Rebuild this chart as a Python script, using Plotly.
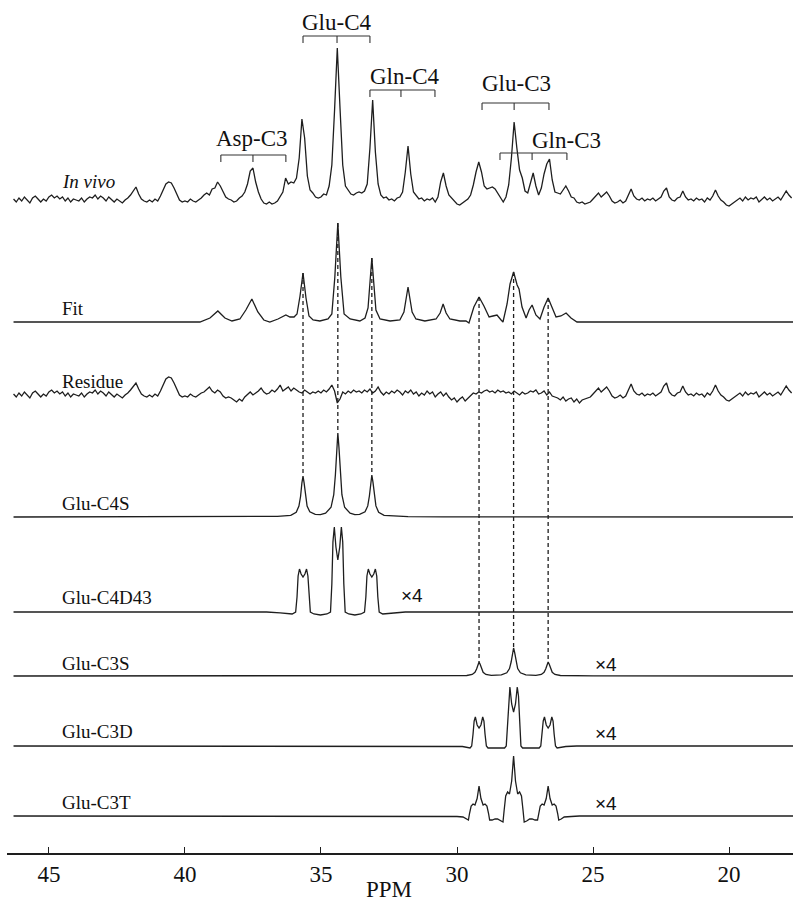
import numpy as np
import plotly.graph_objects as go

# ---------------- DATA (ppm, intensities) ----------------
# Sampled spectra on a 0.1 ppm grid starting at 46.3 ppm (descending)
grid_start, grid_step = 46.3, 0.1

invivo = [
    1, -2, 2, -1, 3, 0, -3, 2, 4, 1,            # 46.3 - 45.4
    -2, 1, -1, 3, 5, 2, 4, 1, 3, -1,            # 45.3 - 44.4
    2, -2, 1, 0, -1, 2, -2, 1, 3, 2,            # 44.3 - 43.4
    5, 1, 4, 2, -1, 3, 0, -2, 1, -1,            # 43.3 - 42.4
    -3, 0, 2, 5, 9, 13, 6, 1, -1, -2,           # 42.3 - 41.4
    0, -2, 1, -1, 4, 10, 16, 18, 17, 12,        # 41.3 - 40.4
    5, 0, -2, -1, -2, 1, -1, -2, 0, 2,          # 40.3 - 39.4
    5, 7, 5, 11, 12, 18, 14, 9, 3, 1,           # 39.3 - 38.4
    0, -2, -1, 2, 4, 8, 16, 29, 32, 18,         # 38.3 - 37.4
    8, 1, -3, -4, -2, -4, -3, -1, 3, 8,         # 37.3 - 36.4
    22, 16, 18, 17, 22, 42, 81, 62, 24, 10,     # 36.3 - 35.4
    7, 3, 2, 3, 6, 5, 14, 35, 90, 152,          # 35.3 - 34.4
    92, 35, 14, 10, 6, 5, 7, 8, 7, 9,           # 34.3 - 33.4
    16, 52, 100, 48, 16, 5, 2, 3, 0, 1,         # 33.3 - 32.4
    -1, 2, 3, 8, 28, 54, 26, 8, 4, 1,           # 32.3 - 31.4
    2, -1, 1, 0, 2, -2, 3, 18, 27, 14,          # 31.3 - 30.4
    5, 2, -2, -4, -5, -3, -1, 1, 5, 15,         # 30.3 - 29.4
    28, 38, 28, 14, 11, 12, 13, 11, 7, 3,       # 29.3 - 28.4
    -2, 3, 15, 42, 78, 52, 30, 22, 9, 7,        # 28.3 - 27.4
    18, 27, 14, 5, 12, 26, 36, 41, 20, 8,       # 27.3 - 26.4
    7, 6, 10, 14, 9, 3, 2, -2, -3, -2,          # 26.3 - 25.4
    -4, -3, -2, 1, 4, 7, 3, 6, 8, 4,            # 25.3 - 24.4
    -1, -3, -2, 0, -3, -1, 5, 11, 4, 1,         # 24.3 - 23.4
    0, 2, -1, 1, 0, 2, -1, 1, 3, 9,             # 23.3 - 22.4
    12, 3, 0, -1, 2, 3, 9, 3, 0, 1,             # 22.3 - 21.4
    -1, 2, 0, 1, -2, 2, 0, 4, 10, 4,            # 21.3 - 20.4
    0, -2, -5, -6, -4, -2, 0, 2, -1, 3,         # 20.3 - 19.4
    0, 2, 1, 3, -2, 1, 3, 0, 2, -1,             # 19.3 - 18.4
    1, 3, 0, 4, 9, 5, 2,                        # 18.3 - 17.7
]

residue = [
    1, -2, 2, -1, 3, 0, -3, 2, 4, 1,
    -2, 1, -1, 3, 5, 2, 4, 1, 3, -1,
    2, -2, 1, 0, -1, 2, -2, 1, 3, 2,
    5, 1, 4, 2, -1, 3, 0, -2, 1, -1,
    -3, 0, 2, 5, 9, 12, 6, 1, -1, -2,
    0, -2, 1, -1, 4, 10, 16, 18, 17, 12,
    5, 0, -2, -1, -2, 1, -1, -2, 0, 2,
    3, 6, 8, 4, 2, 5, 3, -1, -3, -2,            # 39.3 - 38.4
    -3, -5, -7, -4, -6, -2, 1, 3, 0, 2,         # 38.3 - 37.4
    4, 7, 3, 1, 2, 5, 3, 6, 10, 4,              # 37.3 - 36.4
    6, 8, 4, 7, 5, 3, 2, 5, 3, 1,               # 36.3 - 35.4
    3, 2, 4, 2, 5, 3, 6, 10, 4, -8,             # 35.3 - 34.4
    -4, 3, 1, 4, 2, 5, 3, 4, 2, 5,              # 34.3 - 33.4
    3, 6, 2, 4, 8, 3, 0, 3, 1, 4,               # 33.3 - 32.4
    2, 5, 3, 0, 4, 2, 5, 1, 3, -1,              # 32.3 - 31.4
    2, 0, 4, 1, 3, -2, 1, 3, -1, 2,             # 31.3 - 30.4
    -2, -5, -3, -7, -4, -2, -6, -3, 0, 2,       # 30.3 - 29.4
    1, 3, 2, 4, 5, 3, 4, 2, 5, 3,               # 29.3 - 28.4
    4, 2, 3, 1, 4, 2, 0, 3, 1, 2,               # 28.3 - 27.4
    4, 3, 5, 1, 2, 4, 0, 3, -1, -2,             # 27.3 - 26.4
    -3, -5, -2, -6, -4, -3, -7, -4, -8, -5,     # 26.3 - 25.4
    -4, -3, -2, 1, 4, 7, 3, 6, 8, 4,
    -1, -3, -2, 0, -3, -1, 5, 11, 4, 1,
    0, 2, -1, 1, 0, 2, -1, 1, 3, 9,
    12, 3, 0, -1, 2, 3, 9, 3, 0, 1,
    -1, 2, 0, 1, -2, 2, 0, 4, 10, 4,
    0, -2, -5, -6, -4, -2, 0, 2, -1, 3,
    0, 2, 1, 3, -2, 1, 3, 0, 2, -1,
    1, 3, 0, 4, 9, 5, 2,
]

fit_ppm = [46.3, 39.45, 39.08, 38.79, 38.53, 38.27, 37.98, 37.76, 37.54, 37.32,
           37.10, 36.88, 36.58, 36.29, 36.14, 35.99, 35.88, 35.77, 35.66, 35.55,
           35.44, 35.29, 35.04, 34.74, 34.60, 34.49, 34.38, 34.27, 34.15, 33.93,
           33.57, 33.38, 33.27, 33.20, 33.13, 33.05, 32.98, 32.83, 32.46, 32.10,
           31.95, 31.80, 31.65, 31.51, 31.18, 30.77, 30.62, 30.51, 30.40, 30.26,
           29.89, 29.67, 29.56, 29.38, 29.19, 29.01, 28.82, 28.68, 28.53, 28.38,
           28.31, 28.16, 28.05, 27.92, 27.79, 27.72, 27.61, 27.46, 27.35, 27.24,
           27.10, 26.95, 26.80, 26.65, 26.51, 26.36, 26.18, 25.99, 25.81, 25.59, 17.65]
fit_int = [0, 0, 4, 11, 4, 1, 3, 12, 23, 10,
           2, 0, 3, 7, 5, 5, 8, 26, 49, 24,
           6, 2, 1, 3, 8, 45, 99, 45, 8, 3,
           1, 4, 14, 40, 64, 36, 12, 3, 1, 2,
           10, 35, 10, 3, 1, 3, 9, 18, 9, 3,
           1, 1, -1, 15, 25, 16, 5, 6, 7, 2,
           0, 18, 38, 50, 37, 33, 15, 4, 12, 17,
           7, 3, 15, 24, 14, 5, 6, 9, 4, 0, 0]

c4s_ppm = [46.3, 37.5, 36.6, 36.11, 35.91, 35.81, 35.75, 35.70, 35.66, 35.62,
           35.57, 35.51, 35.41, 35.21, 35.02, 34.83, 34.63, 34.53, 34.47, 34.42,
           34.38, 34.34, 34.29, 34.23, 34.13, 33.93, 33.755, 33.58, 33.38, 33.28,
           33.22, 33.17, 33.13, 33.09, 33.04, 32.98, 32.88, 32.68, 31.8, 30.5, 17.65]
c4s_int = [0, 0.2, 0.6, 1.6, 4.7, 10.9, 20.5, 34.2, 41, 34.2,
           20.5, 10.9, 5.2, 2.6, 2.3, 3.8, 9.7, 22.3, 42, 70.1,
           84, 70.1, 42, 22.3, 9.7, 3.8, 2.3, 2.6, 5.2, 11.1,
           21, 35.1, 42, 35.1, 21, 11.1, 4.8, 1.6, 0.3, 0.1, 0]

c4d_ppm = [46.3, 37.0, 36.5,
           36.06, 35.93, 35.88, 35.84, 35.79, 35.73, 35.66, 35.59, 35.53, 35.48, 35.44, 35.39, 35.26,
           35.02,
           34.78, 34.65, 34.60, 34.56, 34.51, 34.45, 34.38, 34.31, 34.25, 34.20, 34.16, 34.11, 33.98,
           33.755,
           33.53, 33.40, 33.35, 33.31, 33.26, 33.20, 33.13, 33.06, 33.00, 32.95, 32.91, 32.86, 32.73,
           32.4, 31.9, 17.65]
c4d_int = [0, 0, -0.8,
           -2, 0, 15, 36, 43, 38, 35, 38, 43, 36, 15, 0, -2,
           -3,
           -2, 0, 28, 70, 85, 65, 52, 65, 85, 70, 28, 0, -2,
           -3,
           -2, 0, 15, 36, 43, 38, 35, 38, 43, 36, 15, 0, -2,
           -1, 0, 0]

c3s_ppm = [46.3, 30.5,
           29.64, 29.44, 29.34, 29.28, 29.23, 29.19, 29.15, 29.10, 29.04, 28.94, 28.74,
           28.555,
           28.37, 28.17, 28.07, 28.01, 27.96, 27.92, 27.88, 27.83, 27.77, 27.67, 27.47,
           27.285,
           27.10, 26.90, 26.80, 26.74, 26.69, 26.65, 26.61, 26.56, 26.50, 26.40, 26.20,
           25.0, 17.65]
c3s_int = [0, 0.1,
           0.5, 1.6, 3.7, 7, 11.7, 14, 11.7, 7, 3.7, 1.6, 0.6,
           0.9,
           1.2, 3.2, 7.4, 14, 23.4, 28, 23.4, 14, 7.4, 3.2, 1.2,
           0.9,
           0.6, 1.6, 3.7, 7, 11.7, 14, 11.7, 7, 3.7, 1.6, 0.5,
           0.1, 0]

c3d_ppm = [46.3, 30.2, 29.8,
           29.52, 29.46, 29.41, 29.37, 29.325, 29.26, 29.19, 29.12, 29.055, 29.01, 28.97, 28.92, 28.86,
           28.555,
           28.25, 28.19, 28.14, 28.10, 28.055, 27.99, 27.92, 27.85, 27.785, 27.74, 27.70, 27.65, 27.59,
           27.285,
           26.98, 26.92, 26.87, 26.83, 26.785, 26.72, 26.65, 26.58, 26.515, 26.47, 26.43, 26.38, 26.32,
           26.0, 25.6, 17.65]
c3d_int = [0, 0, -0.5,
           -2, 0, 12, 25, 29, 21, 18, 21, 29, 25, 12, 0, -2,
           -2,
           -2, 0, 24, 50, 59, 42, 34, 42, 59, 50, 24, 0, -2,
           -2,
           -2, 0, 12, 25, 29, 21, 18, 21, 29, 25, 12, 0, -2,
           -0.5, 0, 0]

c3t_ppm = [46.3, 30.3, 30.0,
           29.78, 29.67, 29.58, 29.54, 29.48, 29.41, 29.34, 29.26, 29.19, 29.12, 29.04, 28.97, 28.90, 28.84, 28.80, 28.71, 28.60,
           28.51, 28.40, 28.31, 28.27, 28.21, 28.14, 28.07, 27.99, 27.92, 27.85, 27.77, 27.70, 27.63, 27.57, 27.53, 27.44, 27.33,
           27.24, 27.13, 27.04, 27.00, 26.94, 26.87, 26.80, 26.72, 26.65, 26.58, 26.50, 26.43, 26.36, 26.30, 26.26, 26.17, 26.06,
           25.8, 25.5, 17.65]
c3t_int = [0, 0, -0.5,
           -1, -3, -4, 2.5, 10, 12, 11, 17.5, 30, 17.5, 11, 12, 10, 2.5, -4, -4, -3,
           -3, -5, -6, 5, 20, 24, 22, 35, 60, 35, 22, 24, 20, 5, -6, -5, -3,
           -3, -4, -4, 2.5, 10, 12, 11, 17.5, 30, 17.5, 11, 12, 10, 2.5, -4, -3, -1,
           -0.5, 0, 0]

# multiplet line positions (ppm) used for the dashed guide lines
c4_lines = [35.66, 34.38, 33.13]
c3_lines = [29.19, 27.92, 26.65]

# assignment brackets: label, (left, centre, right) ppm
bracket_names = ["Glu-C4", "Gln-C4", "Asp-C3", "Glu-C3", "Gln-C3"]
bracket_ppm = [(35.66, 34.41, 33.20), (33.20, 32.06, 30.81), (38.68, 37.50, 36.29),
               (29.08, 27.90, 26.62), (28.42, 27.24, 25.96)]

trace_names = ["<i>In vivo</i>", "Fit", "Residue", "Glu-C4S", "Glu-C4D43",
               "Glu-C3S", "Glu-C3D", "Glu-C3T"]
scale_labels = ["", "", "", "", "×4", "×4", "×4", "×4"]
x_ticks = [45, 40, 35, 30, 25, 20]

# ---------------- LAYOUT (positions / styles) ----------------
H_PLOT = 853                     # plot-area height in px; y units = px above axis
baselines = [653, 531, 458, 336, 241, 177, 107, 37]
label_y = [672, 545, 472, 350, 256, 190, 122, 51]
scale_pos = [None, None, None, None, (31.65, 258), (24.52, 189), (24.52, 120), (24.52, 50)]
bracket_y = [817, 763, 698, 750, 700]
bracket_text = [(34.41, 831), (31.91, 777), (37.53, 715), (27.83, 770), (25.99, 713)]
XR = [46.54, 17.65]
LINE = "#1e1e1e"
SERIF = "Liberation Serif"
SANS = "Liberation Sans"

grid = np.round(grid_start - grid_step * np.arange(len(invivo)), 2)
assert len(invivo) == len(residue) == 287

series = [
    (grid, np.array(invivo, float)),
    (np.array(fit_ppm), np.array(fit_int, float)),
    (grid, np.array(residue, float)),
    (np.array(c4s_ppm), np.array(c4s_int, float)),
    (np.array(c4d_ppm), np.array(c4d_int, float)),
    (np.array(c3s_ppm), np.array(c3s_int, float)),
    (np.array(c3d_ppm), np.array(c3d_int, float)),
    (np.array(c3t_ppm), np.array(c3t_int, float)),
]
for (x, y) in series:
    assert len(x) == len(y)

fig = go.Figure()
for (x, y), base in zip(series, baselines):
    fig.add_trace(go.Scatter(x=x, y=y + base, mode="lines",
                             line=dict(color=LINE, width=1.3),
                             hoverinfo="skip", showlegend=False))


def height_at(px, py, p):
    px = np.asarray(px, float)
    py = np.asarray(py, float)
    return float(np.interp(p, px[::-1], py[::-1]))


shapes = []
# dashed guide lines
for p in c4_lines:
    y0 = baselines[1] + height_at(fit_ppm, fit_int, p)
    y1 = baselines[3] + height_at(c4s_ppm, c4s_int, p)
    shapes.append(dict(type="line", xref="x", yref="y", x0=p, x1=p, y0=y0, y1=y1,
                       line=dict(color=LINE, width=1.3, dash="4px,3px")))
for p in c3_lines:
    y0 = baselines[1] + height_at(fit_ppm, fit_int, p)
    y1 = baselines[5] + height_at(c3s_ppm, c3s_int, p)
    shapes.append(dict(type="line", xref="x", yref="y", x0=p, x1=p, y0=y0, y1=y1,
                       line=dict(color=LINE, width=1.3, dash="4px,3px")))
# brackets
for (l, c, r), yb in zip(bracket_ppm, bracket_y):
    st = dict(color="#333", width=1.1)
    shapes.append(dict(type="line", xref="x", yref="y", x0=l, x1=r, y0=yb, y1=yb, line=st))
    for p in (l, c, r):
        shapes.append(dict(type="line", xref="x", yref="y", x0=p, x1=p, y0=yb, y1=yb - 7, line=st))

ann = []
for name, ly in zip(trace_names, label_y):
    ann.append(dict(text=name, xref="paper", yref="y", x=(60 - 7) / 786, y=ly,
                    xanchor="left", yanchor="middle", showarrow=False,
                    font=dict(family=SERIF, size=19, color="#111")))
for s, pos in zip(scale_labels, scale_pos):
    if s and pos:
        ann.append(dict(text=s, xref="x", yref="y", x=pos[0], y=pos[1],
                        xanchor="center", yanchor="middle", showarrow=False,
                        font=dict(family=SANS, size=19, color="#111")))
for name, (bx, by) in zip(bracket_names, bracket_text):
    ann.append(dict(text=name, xref="x", yref="y", x=bx, y=by,
                    xanchor="center", yanchor="middle", showarrow=False,
                    font=dict(family=SERIF, size=23, color="#111")))
ann.append(dict(text="PPM", xref="x", yref="paper", x=32.5, y=(H_PLOT - 889) / H_PLOT,
                xanchor="center", yanchor="middle", showarrow=False,
                font=dict(family=SERIF, size=23, color="#111")))

fig.update_layout(
    width=793, height=904,
    margin=dict(l=7, r=0, t=0, b=51),
    paper_bgcolor="white", plot_bgcolor="white",
    showlegend=False,
    shapes=shapes, annotations=ann,
    xaxis=dict(range=XR, tickvals=x_ticks, ticktext=[str(t) for t in x_ticks],
               ticks="inside", ticklen=6, tickwidth=1, tickcolor=LINE,
               showline=True, linecolor=LINE, linewidth=1.6,
               showgrid=False, zeroline=False, fixedrange=True,
               tickfont=dict(family=SERIF, size=23, color="#111")),
    yaxis=dict(range=[0, H_PLOT], visible=False, showgrid=False, zeroline=False,
               fixedrange=True),
)

fig.write_html("out.html", config={"displayModeBar": False},
               post_script="document.body.style.margin='0px';document.body.style.padding='0px';")
